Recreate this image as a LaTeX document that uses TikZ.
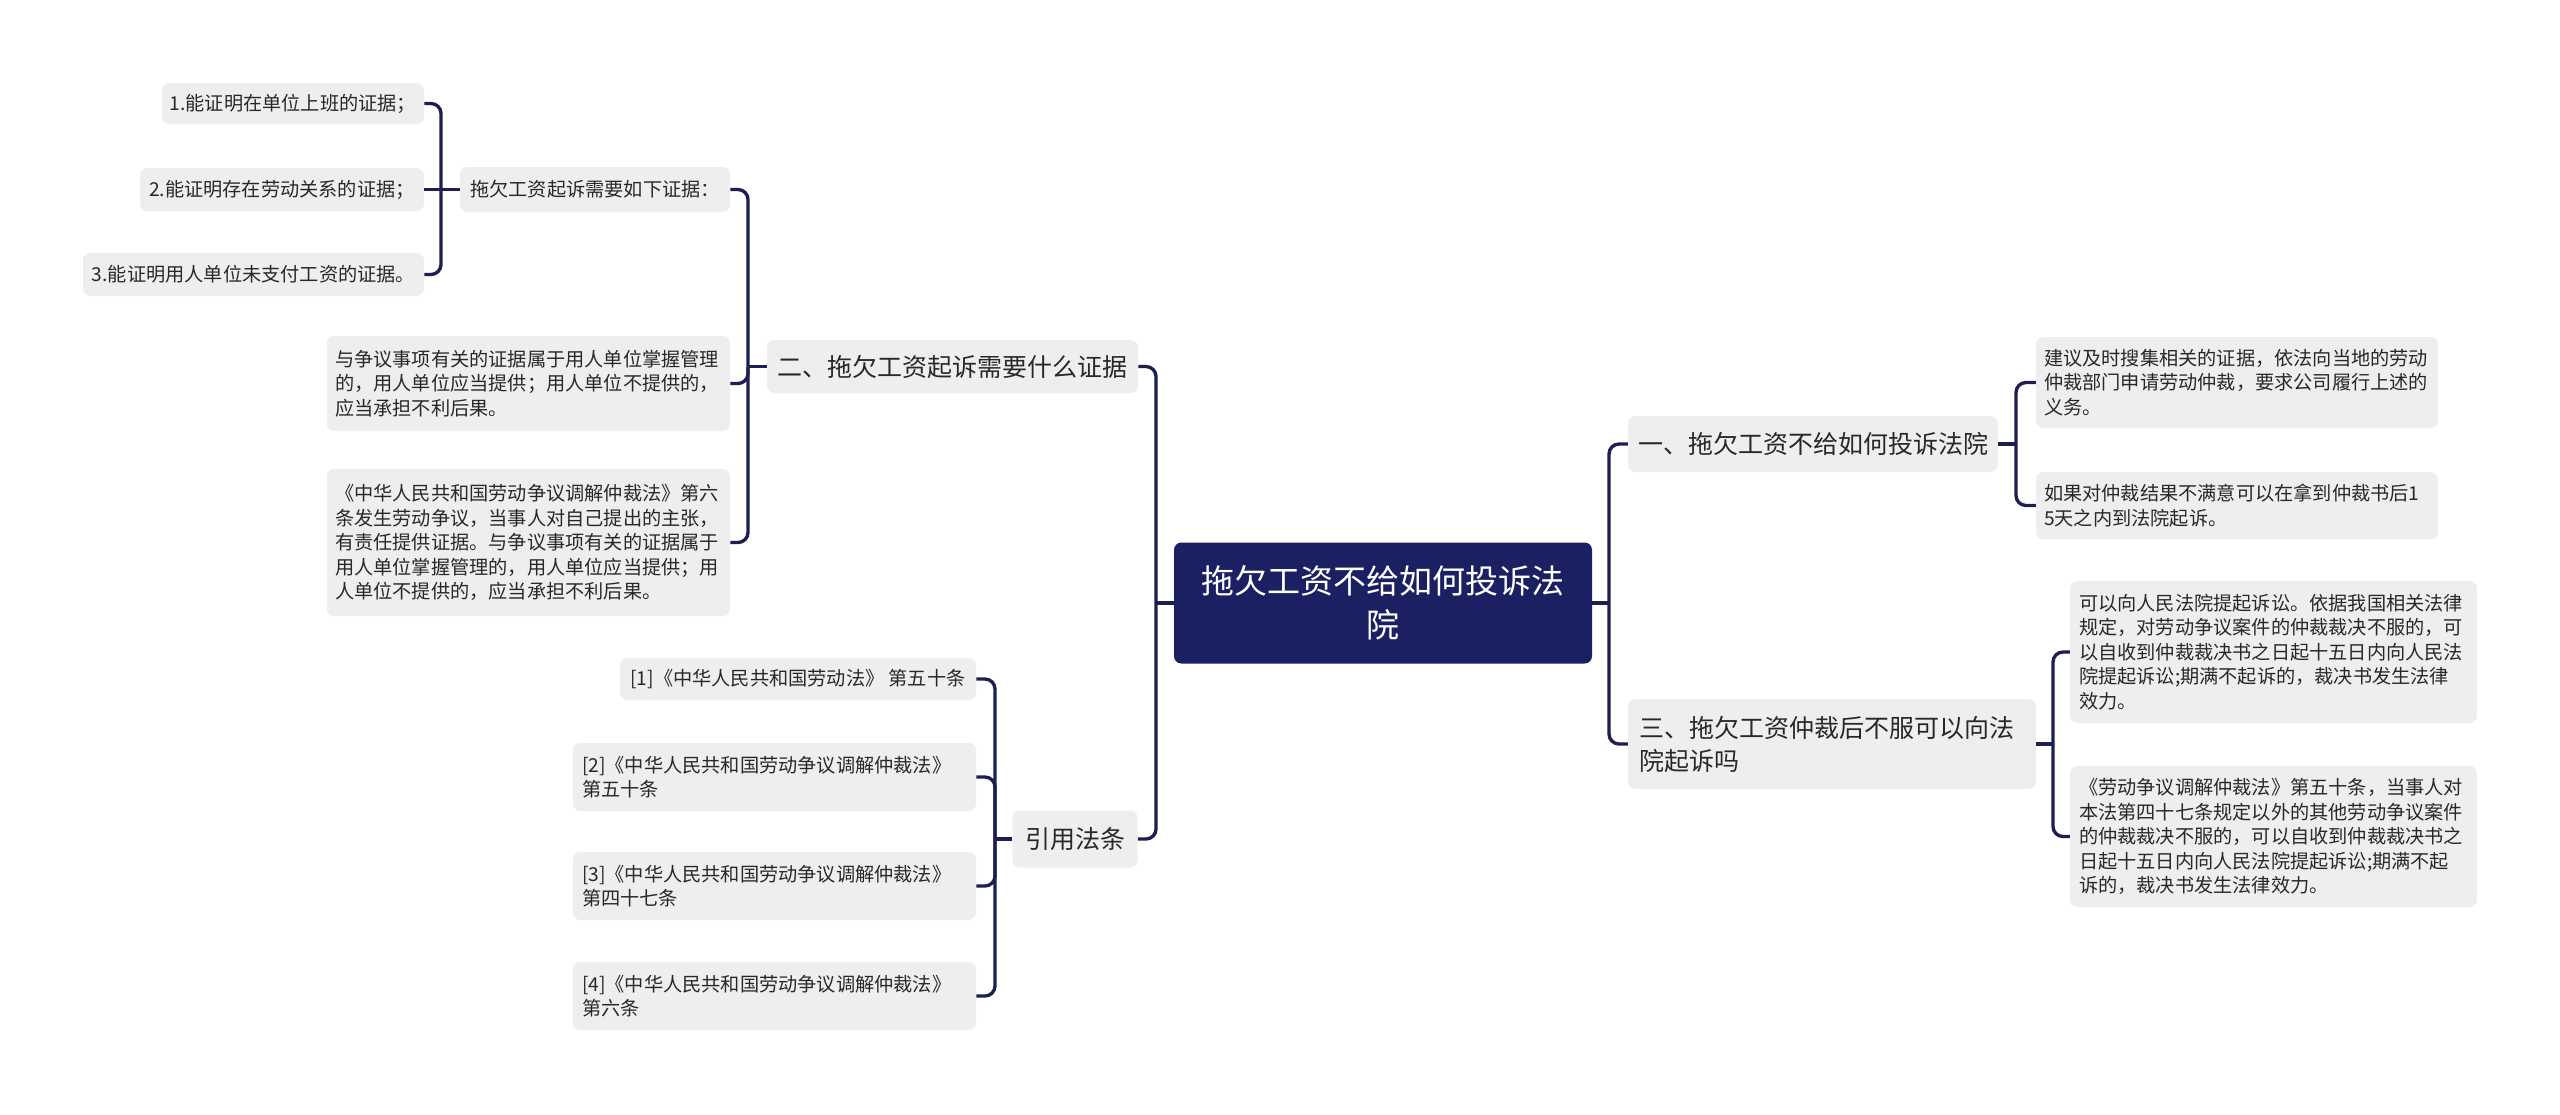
\documentclass[tikz,border=0pt]{standalone}
\usepackage{fontspec}
\newfontfamily\cjk{Noto Sans CJK SC}
\definecolor{navy}{RGB}{27,32,98}
\definecolor{linec}{RGB}{28,31,80}
\definecolor{boxgray}{RGB}{238,238,238}
\definecolor{txt}{RGB}{40,40,40}
\tikzset{
  sz/.style 2 args={minimum width=#1*0.75pt, minimum height=#2*0.75pt},
  tw/.style={text width=#1*0.75pt},
  basebox/.style={rounded corners=5.5pt, inner xsep=3pt, inner ysep=2pt, align=left},
  rootbox/.style={basebox, fill=navy, text=white, align=center, font=\cjk\fontsize{24.75pt}{33pt}\selectfont},
  lvl1/.style={basebox, fill=boxgray, text=txt, font=\cjk\fontsize{18.75pt}{24.75pt}\selectfont},
  leaf/.style={basebox, fill=boxgray, text=txt, font=\cjk\fontsize{14.4pt}{18.4pt}\selectfont},
  conn/.style={draw=linec, line width=2.5pt, rounded corners=7.5pt}
}
\begin{document}
\begin{tikzpicture}[x=0.75pt,y=-0.75pt]
\useasboundingbox[fill=white] (0,0) rectangle (2560,1114);

% root
\node[rootbox, sz={418}{121}] (root) at (1383,603) {拖欠工资不给如何投诉法\\院};

% level 1
\node[lvl1, sz={371}{53}] (A) at (952.5,366.5) {二、拖欠工资起诉需要什么证据};
\node[lvl1, sz={125}{57}] (B) at (1075,839) {引用法条};
\node[lvl1, sz={370}{56}] (C) at (1813,444) {一、拖欠工资不给如何投诉法院};
\node[lvl1, sz={408}{90}, tw=386] (D) at (1832,744) {三、拖欠工资仲裁后不服可以向法\\院起诉吗};

% children of A
\node[leaf, sz={270}{45}] (A1) at (595,189.5) {拖欠工资起诉需要如下证据：};
\node[leaf, sz={403}{95}, tw=387] (A2) at (528.5,383.5) {与争议事项有关的证据属于用人单位掌握管理\\的，用人单位应当提供；用人单位不提供的，\\应当承担不利后果。};
\node[leaf, sz={403}{147}, tw=387] (A3) at (528.5,542.5) {《中华人民共和国劳动争议调解仲裁法》第六\\条发生劳动争议，当事人对自己提出的主张，\\有责任提供证据。与争议事项有关的证据属于\\用人单位掌握管理的，用人单位应当提供；用\\人单位不提供的，应当承担不利后果。};

% children of A1
\node[leaf, sz={262}{41}] (A1a) at (293,103.5) {1.能证明在单位上班的证据；};
\node[leaf, sz={284}{43}] (A1b) at (282,189.5) {2.能证明存在劳动关系的证据；};
\node[leaf, sz={341}{43}] (A1c) at (253.5,274.5) {3.能证明用人单位未支付工资的证据。};

% children of B
\node[leaf, sz={356}{42}] (B1) at (798,679) {[1]《中华人民共和国劳动法》 第五十条};
\node[leaf, sz={403}{68}, tw=385] (B2) at (774.5,777) {[2]《中华人民共和国劳动争议调解仲裁法》\\第五十条};
\node[leaf, sz={403}{68}, tw=385] (B3) at (774.5,886) {[3]《中华人民共和国劳动争议调解仲裁法》\\第四十七条};
\node[leaf, sz={403}{68}, tw=385] (B4) at (774.5,996) {[4]《中华人民共和国劳动争议调解仲裁法》\\第六条};

% children of C
\node[leaf, sz={402}{91}, tw=386] (C1) at (2237,382.5) {建议及时搜集相关的证据，依法向当地的劳动\\仲裁部门申请劳动仲裁，要求公司履行上述的\\义务。};
\node[leaf, sz={402}{67}, tw=386] (C2) at (2237,505.5) {如果对仲裁结果不满意可以在拿到仲裁书后1\\5天之内到法院起诉。};

% children of D
\node[leaf, sz={407}{142}, tw=389] (D1) at (2273.5,652) {可以向人民法院提起诉讼。依据我国相关法律\\规定，对劳动争议案件的仲裁裁决不服的，可\\以自收到仲裁裁决书之日起十五日内向人民法\\院提起诉讼;期满不起诉的，裁决书发生法律\\效力。};
\node[leaf, sz={407}{141}, tw=389] (D2) at (2273.5,836.5) {《劳动争议调解仲裁法》第五十条，当事人对\\本法第四十七条规定以外的其他劳动争议案件\\的仲裁裁决不服的，可以自收到仲裁裁决书之\\日起十五日内向人民法院提起诉讼;期满不起\\诉的，裁决书发生法律效力。};

% junctions
\coordinate (rootL) at (1156,603);
\coordinate (rootR) at (1609,603);
\coordinate (AJ) at (748,366.5);
\coordinate (A1J) at (441,189.5);
\coordinate (BJ) at (995,839);
\coordinate (CJ) at (2016,444);
\coordinate (DJ) at (2053,744);

% connectors
\draw[conn] (root.west) -- (rootL);
\draw[conn] (rootL) |- (A.east);
\draw[conn] (rootL) |- (B.east);
\draw[conn] (root.east) -- (rootR);
\draw[conn] (rootR) |- (C.west);
\draw[conn] (rootR) |- (D.west);

\draw[conn] (A.west) -- (AJ);
\draw[conn] (AJ) |- (A1.east);
\draw[conn] (AJ) |- (A2.east);
\draw[conn] (AJ) |- (A3.east);

\draw[conn] (A1.west) -- (A1J);
\draw[conn] (A1J) |- (A1a.east);
\draw[conn] (A1J) -- (A1b.east);
\draw[conn] (A1J) |- (A1c.east);

\draw[conn] (B.west) -- (BJ);
\draw[conn] (BJ) |- (B1.east);
\draw[conn] (BJ) |- (B2.east);
\draw[conn] (BJ) |- (B3.east);
\draw[conn] (BJ) |- (B4.east);

\draw[conn] (C.east) -- (CJ);
\draw[conn] (CJ) |- (C1.west);
\draw[conn] (CJ) |- (C2.west);

\draw[conn] (D.east) -- (DJ);
\draw[conn] (DJ) |- (D1.west);
\draw[conn] (DJ) |- (D2.west);
\end{tikzpicture}
\end{document}
